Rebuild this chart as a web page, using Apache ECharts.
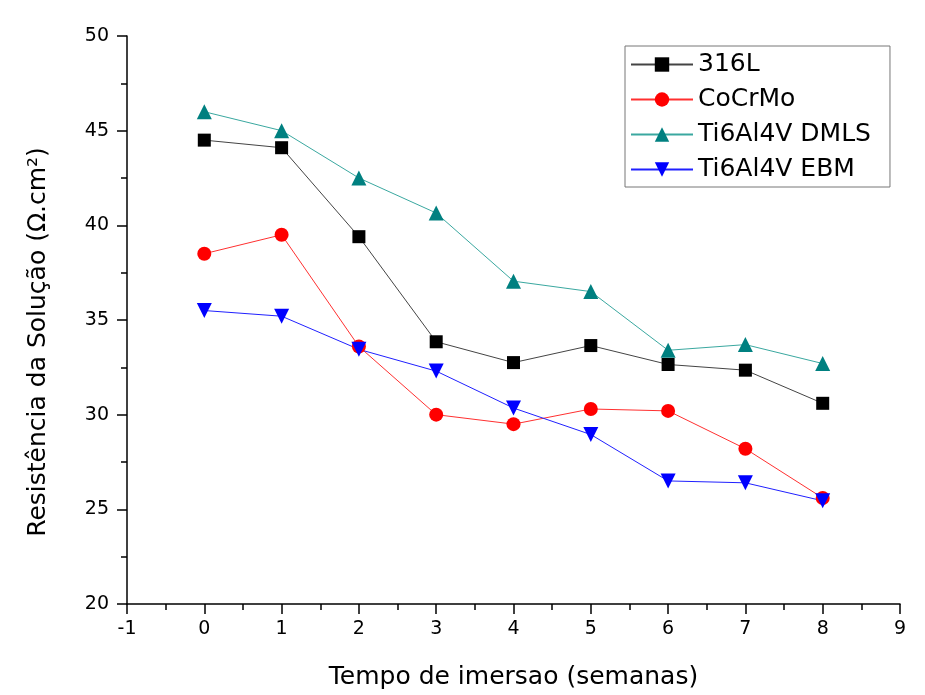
<!DOCTYPE html>
<html>
<head>
<meta charset="utf-8">
<script src="https://cdn.jsdelivr.net/npm/echarts@6/dist/echarts.min.js"></script>
<style>
  html, body { margin: 0; padding: 0; background: #fff; }
  #chart { width: 925px; height: 695px; }
</style>
</head>
<body>
<div id="chart"></div>
<script>
// Immersion time in weeks
const weeks = [0, 1, 2, 3, 4, 5, 6, 7, 8];

// Solution resistance (Ω.cm²) per alloy
const s316L = [44.5, 44.1, 39.4, 33.85, 32.75, 33.65, 32.65, 32.35, 30.6];
const sCoCrMo = [38.5, 39.5, 33.6, 30.0, 29.5, 30.3, 30.2, 28.2, 25.6];
const sDMLS = [46.0, 45.0, 42.5, 40.65, 37.05, 36.5, 33.4, 33.7, 32.7];
const sEBM = [35.5, 35.2, 33.45, 32.3, 30.35, 28.95, 26.5, 26.4, 25.45];

const pair = (vals) => weeks.map((w, i) => [w, vals[i]]);

const font = 'DejaVu Sans, sans-serif';
const axisLine = { show: true, onZero: false, lineStyle: { color: '#000', width: 1.5 } };
const majorTick = { show: true, inside: false, length: 10, lineStyle: { color: '#000', width: 1.5 } };
const minorTick = { show: true, splitNumber: 2, length: 6, lineStyle: { color: '#000', width: 1.5 } };

const chart = echarts.init(document.getElementById('chart'));
chart.setOption({
  backgroundColor: '#fff',
  animation: false,
  grid: { left: 127, right: 25, top: 36, bottom: 90 },
  legend: {
    orient: 'vertical',
    left: 625,
    top: 46,
    padding: [6, 19, 5, 5],
    itemWidth: 62,
    itemHeight: 18,
    itemGap: 10,
    borderColor: '#777',
    borderWidth: 1,
    textStyle: { fontFamily: font, fontSize: 25, color: '#000' },
    data: ['316L', 'CoCrMo', 'Ti6Al4V DMLS', 'Ti6Al4V EBM']
  },
  xAxis: {
    type: 'value',
    min: -1, max: 9, interval: 1,
    name: 'Tempo de imersao (semanas)',
    nameLocation: 'middle',
    nameGap: 61,
    nameTextStyle: { fontFamily: font, fontSize: 25, color: '#000' },
    axisLine: axisLine,
    axisTick: majorTick,
    minorTick: minorTick,
    axisLabel: { fontFamily: font, fontSize: 19, color: '#000', margin: 16 },
    splitLine: { show: false }
  },
  yAxis: {
    type: 'value',
    min: 20, max: 50, interval: 5,
    name: 'Resistência da Solução (Ω.cm²)',
    nameLocation: 'middle',
    nameGap: 76,
    nameTextStyle: { fontFamily: font, fontSize: 25, color: '#000', padding: [0, 44, 0, 0] },
    axisLine: axisLine,
    axisTick: majorTick,
    minorTick: minorTick,
    axisLabel: { fontFamily: font, fontSize: 19, color: '#000', margin: 18 },
    splitLine: { show: false }
  },
  series: [
    {
      name: '316L', type: 'line', data: pair(s316L),
      symbol: 'rect', symbolSize: 13,
      itemStyle: { color: '#000' },
      lineStyle: { color: '#444', width: 1 }
    },
    {
      name: 'CoCrMo', type: 'line', data: pair(sCoCrMo),
      symbol: 'circle', symbolSize: 14,
      itemStyle: { color: '#ff0000' },
      lineStyle: { color: '#ff3030', width: 1 }
    },
    {
      name: 'Ti6Al4V DMLS', type: 'line', data: pair(sDMLS),
      symbol: 'triangle', symbolSize: 15,
      itemStyle: { color: '#008080' },
      lineStyle: { color: '#3aa8a0', width: 1 }
    },
    {
      name: 'Ti6Al4V EBM', type: 'line', data: pair(sEBM),
      symbol: 'triangle', symbolRotate: 180, symbolSize: 15,
      itemStyle: { color: '#0000ff' },
      lineStyle: { color: '#2020ff', width: 1 }
    }
  ]
});
</script>
</body>
</html>
